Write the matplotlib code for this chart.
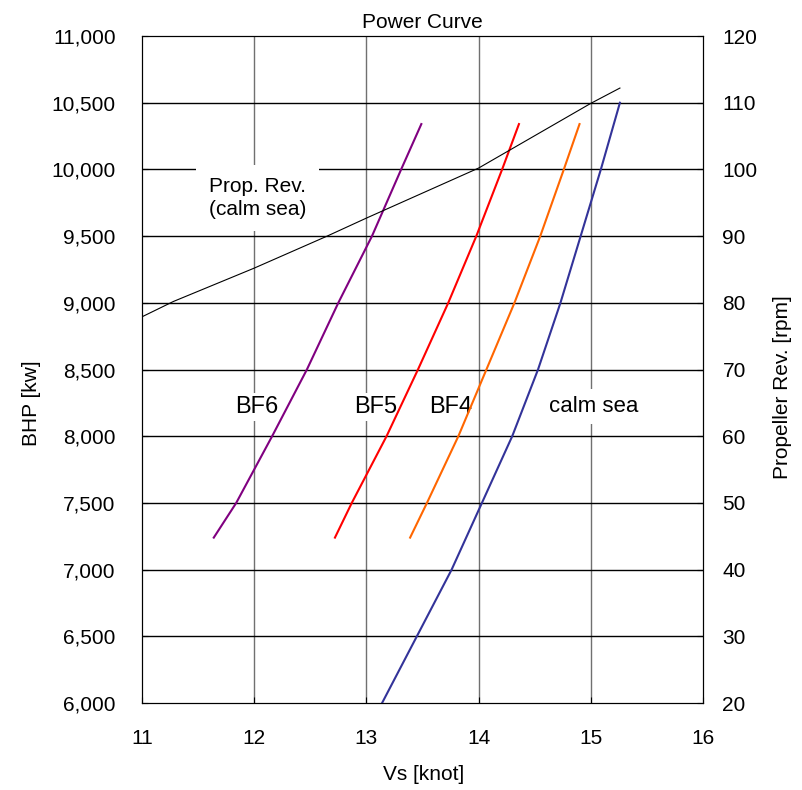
import matplotlib
matplotlib.use("Agg")
import matplotlib.pyplot as plt
from matplotlib.ticker import FuncFormatter

plt.rcParams['font.family'] = ['Liberation Sans', 'DejaVu Sans']

# calm sea power curve
calm_speed = [13.14, 13.45, 13.76, 14.03, 14.30, 14.53, 14.73, 14.91, 15.09, 15.26]
calm_bhp = [6000, 6500, 7000, 7500, 8000, 8500, 9000, 9500, 10000, 10500]

# Beaufort 4 / 5 / 6 power curves
bf_bhp = [7240, 7500, 8000, 8500, 9000, 9500, 10000, 10340]
bf4_speed = [13.39, 13.54, 13.82, 14.07, 14.32, 14.55, 14.76, 14.90]
bf5_speed = [12.72, 12.87, 13.18, 13.46, 13.73, 13.98, 14.21, 14.36]
bf6_speed = [11.64, 11.84, 12.16, 12.47, 12.75, 13.05, 13.31, 13.49]

# propeller revolution (calm sea)
rev_speed = [11.0, 11.28, 12.0, 12.65, 13.0, 14.0, 15.0, 15.26]
rev_rpm = [77.9, 80.2, 85.2, 90.0, 92.7, 100.2, 109.9, 112.2]

x_ticks = [11, 12, 13, 14, 15, 16]
bhp_ticks = [6000, 6500, 7000, 7500, 8000, 8500, 9000, 9500, 10000, 10500, 11000]
rpm_ticks = [20, 30, 40, 50, 60, 70, 80, 90, 100, 110, 120]


def main():
    fig = plt.figure(figsize=(8.03, 7.9), dpi=100)
    ax = fig.add_axes([0.1768, 0.1101, 0.6986, 0.8443])
    ax2 = ax.twinx()

    ax.set_xlim(11, 16)
    ax.set_ylim(6000, 11000)
    ax2.set_ylim(20, 120)
    ax.set_xticks(x_ticks)
    ax.set_yticks(bhp_ticks)
    ax2.set_yticks(rpm_ticks)
    ax.yaxis.set_major_formatter(FuncFormatter(lambda v, p: f"{int(v):,}"))

    for xv in x_ticks[1:-1]:
        ax.axvline(xv, color='#707070', lw=1.0, zorder=1)
    for yv in bhp_ticks[1:-1]:
        ax.axhline(yv, color='black', lw=1.0, zorder=1)

    ax.tick_params(axis='both', direction='in', length=4, labelsize=15, pad=19)
    ax2.tick_params(axis='y', direction='in', length=4, labelsize=15, pad=14)

    ax.plot(calm_speed, calm_bhp, color='#333399', lw=1.5, zorder=3)
    ax.plot(bf4_speed, bf_bhp, color='#FF6600', lw=1.5, zorder=3)
    ax.plot(bf5_speed, bf_bhp, color='#FF0000', lw=1.5, zorder=3)
    ax.plot(bf6_speed, bf_bhp, color='#800080', lw=1.5, zorder=3)
    ax2.plot(rev_speed, rev_rpm, color='black', lw=0.8)

    box = dict(facecolor='white', edgecolor='none', pad=2)
    ax.text(12.03, 9786, "Prop. Rev.\n(calm sea)", fontsize=15, ha='center', va='center',
            linespacing=1.25, bbox=dict(facecolor='white', edgecolor='none', pad=9), zorder=2)
    ax.text(12.02, 8220, "BF6", fontsize=17, ha='center', va='center', bbox=box, zorder=2)
    ax.text(13.08, 8220, "BF5", fontsize=17, ha='center', va='center', bbox=box, zorder=2)
    ax.text(13.75, 8220, "BF4", fontsize=17, ha='center', va='center', bbox=box, zorder=2)
    ax.text(15.03, 8220, "calm sea", fontsize=16, ha='center', va='center',
            bbox=dict(facecolor='white', edgecolor='none', pad=5), zorder=2)

    ax.set_title("Power Curve", fontsize=15, pad=6)
    fig.text(0.039, 0.49, "BHP [kw]", rotation=90, fontsize=15, ha='center', va='center')
    fig.text(0.975, 0.51, "Propeller Rev. [rpm]", rotation=90, fontsize=15, ha='center', va='center')
    fig.text(0.528, 0.019, "Vs [knot]", fontsize=15, ha='center', va='center')

    fig.savefig("out.png", dpi=100)


if __name__ == "__main__":
    main()
